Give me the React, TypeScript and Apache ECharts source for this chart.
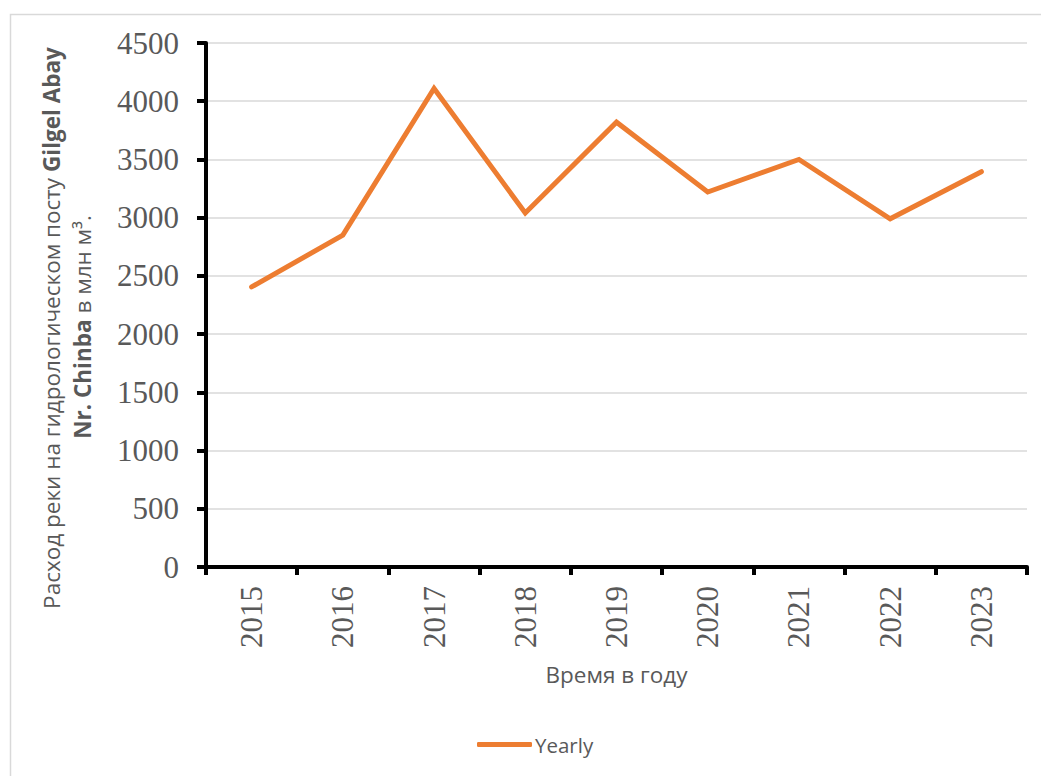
import React, { useEffect, useRef } from "react";
import * as echarts from "echarts";

// Annual discharge at the Gilgel Abay Nr. Chinba gauging station, million m³
const years = ["2015", "2016", "2017", "2018", "2019", "2020", "2021", "2022", "2023"];
const yearly = [2405, 2850, 4110, 3040, 3820, 3220, 3500, 2990, 3395];
const yTicks = { min: 0, max: 4500, interval: 500 };

const seriesName = "Yearly";
const xAxisTitle = "Время в году";
const yTitleLine1 = ["Расход реки на гидрологическом посту ", "Gilgel Abay"];
const yTitleLine2 = ["Nr. Chinba", " в млн м³."];

const ORANGE = "#ED7D31";
const TEXT = "#595959";
const GRID = "#D9D9D9";
const SERIF = "'Liberation Serif', 'Times New Roman', serif";
const SANS = "'Open Sans', 'Noto Sans', sans-serif";

export default function App() {
  const ref = useRef<HTMLDivElement>(null);

  useEffect(() => {
    if (!ref.current) return;
    const chart = echarts.init(ref.current, null, { renderer: "svg" });

    const titleRich = {
      n: { fontSize: 22.5, fontFamily: SANS, fill: TEXT },
      b: { fontSize: 22.5, fontFamily: SANS, fontWeight: "bold", fill: TEXT },
    };

    chart.setOption({
      animation: false,
      backgroundColor: "#ffffff",
      grid: { left: 206, right: 14, top: 43, bottom: 209, containLabel: false },
      legend: {
        data: [{ name: seriesName, icon: "roundRect" }],
        left: 472,
        top: 729,
        itemWidth: 55,
        itemHeight: 5,
        itemGap: 4,
        itemStyle: { color: ORANGE },
        textStyle: { color: TEXT, fontSize: 20.5, fontFamily: SANS, padding: [0, 0, 0, -2] },
      },
      xAxis: {
        type: "category",
        data: years,
        boundaryGap: true,
        name: xAxisTitle,
        nameLocation: "middle",
        nameGap: 96,
        nameTextStyle: { color: TEXT, fontSize: 22.5, fontFamily: SANS },
        axisLine: { lineStyle: { color: "#000000", width: 4 } },
        axisTick: { show: true, inside: false, length: 8, lineStyle: { color: "#000000", width: 4 } },
        axisLabel: {
          rotate: 90,
          margin: 19,
          color: TEXT,
          fontSize: 31,
          fontFamily: SERIF,
        },
        splitLine: { show: false },
      },
      yAxis: {
        type: "value",
        min: yTicks.min,
        max: yTicks.max,
        interval: yTicks.interval,
        axisLine: { show: true, lineStyle: { color: "#000000", width: 4 } },
        axisTick: { show: true, inside: false, length: 9, lineStyle: { color: "#000000", width: 4 } },
        axisLabel: {
          margin: 27,
          color: TEXT,
          fontSize: 31,
          fontFamily: SERIF,
          formatter: (v: number) => String(v),
        },
        splitLine: { show: true, lineStyle: { color: GRID, width: 1.5 } },
      },
      series: [
        {
          name: seriesName,
          type: "line",
          data: yearly,
          symbol: "none",
          lineStyle: { color: ORANGE, width: 5, cap: "round", join: "miter" },
          itemStyle: { color: ORANGE },
          z: 5,
        },
      ],
      graphic: [
        // chart area border
        {
          type: "rect",
          left: 8,
          top: 12,
          shape: { x: 0, y: 0, width: 1060, height: 800 },
          style: { fill: "none", stroke: GRID, lineWidth: 1.5 },
          silent: true,
          z: -10,
        },
        {
          type: "text",
          x: 51,
          y: 328,
          rotation: Math.PI / 2,
          style: {
            text: `{n|${yTitleLine1[0]}}{b|${yTitleLine1[1]}}`,
            align: "center",
            verticalAlign: "middle",
            rich: titleRich,
          },
        },
        {
          type: "text",
          x: 82,
          y: 327,
          rotation: Math.PI / 2,
          style: {
            text: `{b|${yTitleLine2[0]}}{n|${yTitleLine2[1]}}`,
            align: "center",
            verticalAlign: "middle",
            rich: titleRich,
          },
        },
      ],
    });

    return () => chart.dispose();
  }, []);

  return (
    <div
      ref={ref}
      style={{ position: "fixed", left: 0, top: 0, width: 1041, height: 776, background: "#fff" }}
    />
  );
}
